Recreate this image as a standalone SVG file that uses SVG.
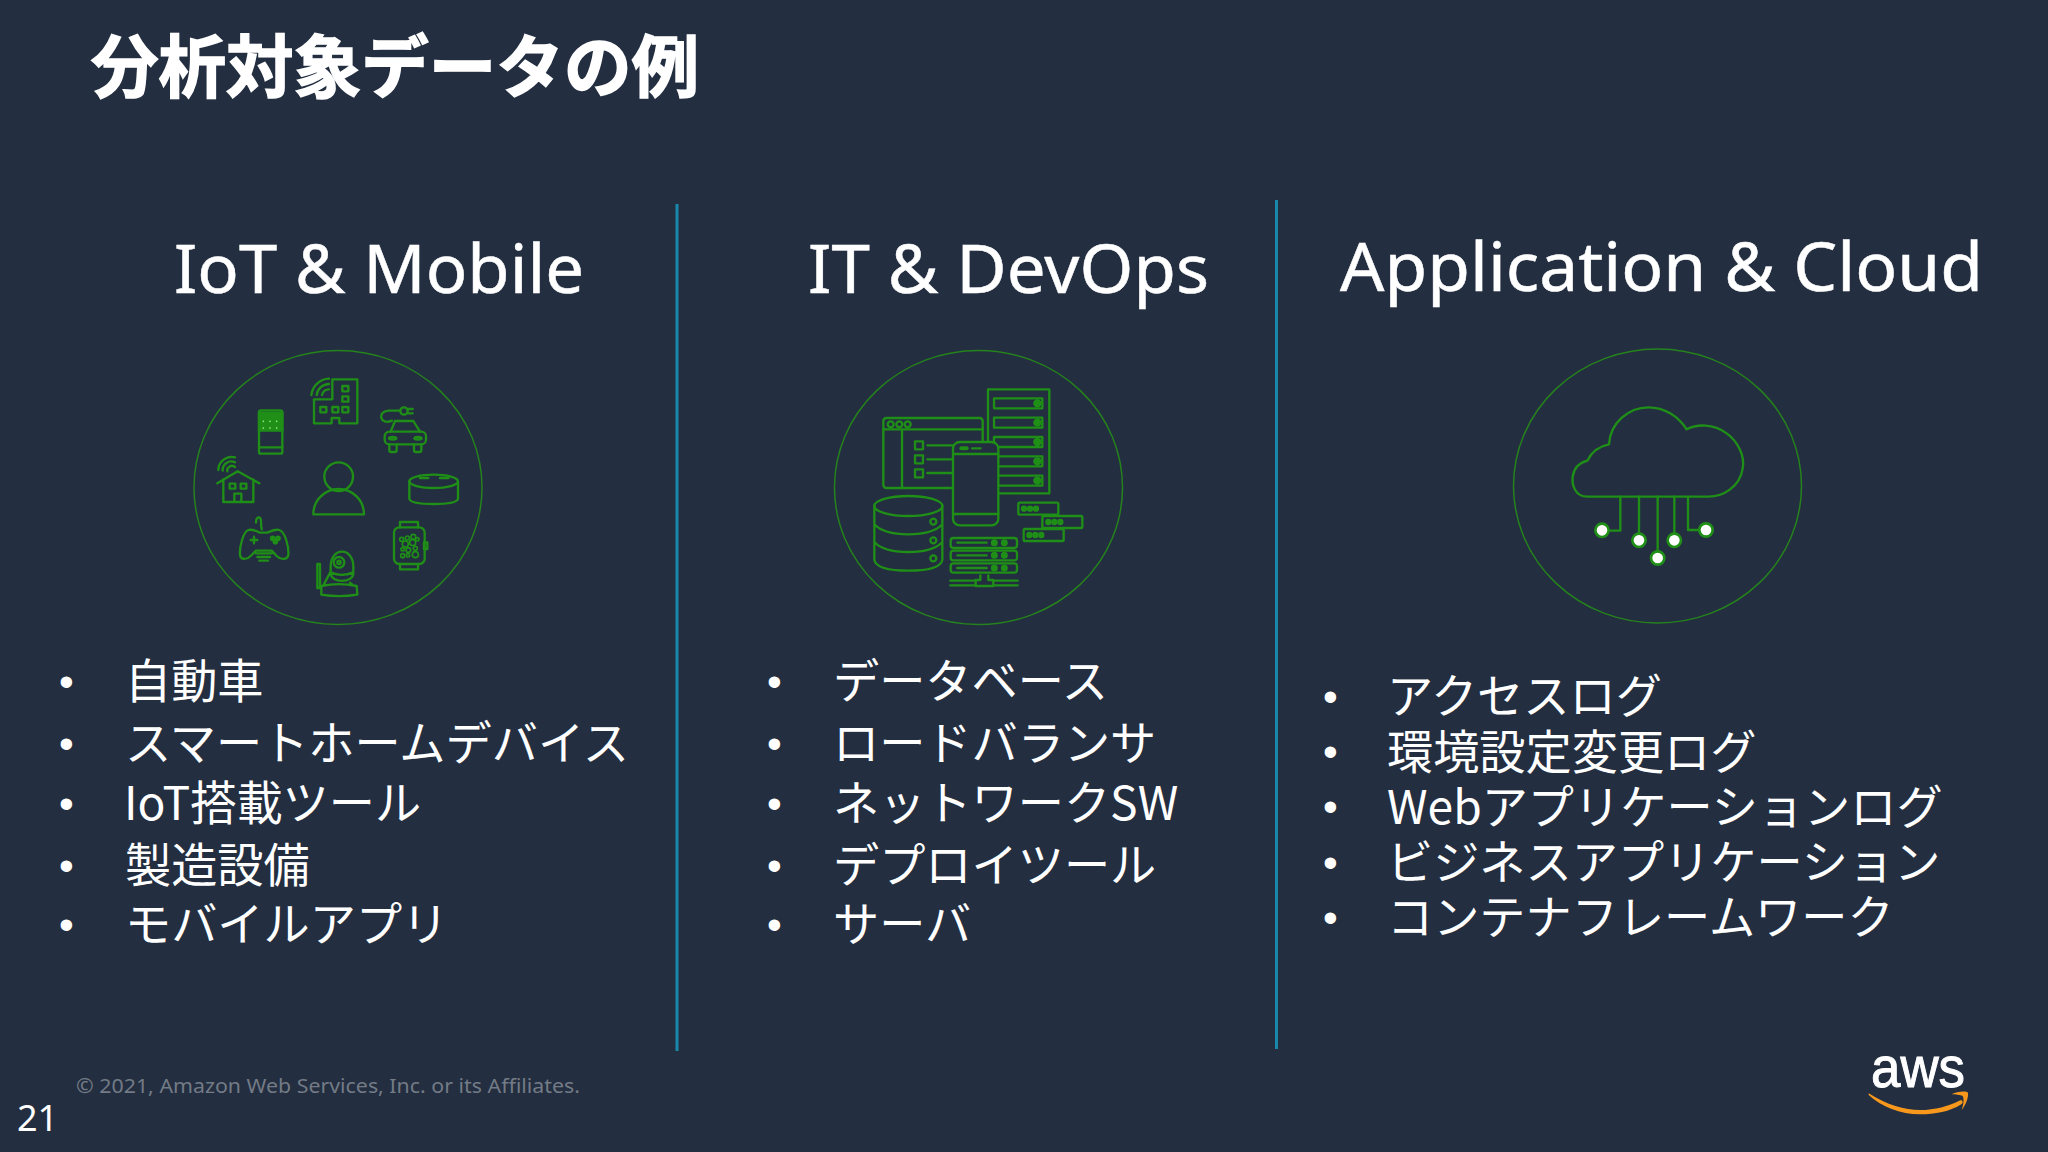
<svg xmlns="http://www.w3.org/2000/svg" width="2048" height="1152" viewBox="0 0 2048 1152">
<style>
text{font-family:"Noto Sans","Noto Sans CJK JP",sans-serif;fill:#fff}
.title{font-family:"Noto Sans CJK JP",sans-serif;font-size:68px;font-weight:700;stroke:#fff;stroke-width:1.5}
.head{font-size:68px;stroke:#fff;stroke-width:.5}
.item{font-family:"Noto Sans CJK JP","Noto Sans",sans-serif;font-size:46.200px}
.bul{font-family:"Liberation Sans",sans-serif;font-size:42px}
.ring{fill:none;stroke:#25821c;stroke-width:1.5}
.ic{fill:none;stroke:#1f8f17;stroke-width:7;stroke-linejoin:round;stroke-linecap:round}
.ic .f{fill:#1f8f17}
.ic .b{fill:#232e40}
.ic .w{fill:#fff;stroke:#1f8f17;stroke-width:8}
.sep{stroke:#1a87ad;stroke-width:3}
</style>
<rect width="2048" height="1152" fill="#232e40"/>
<text class="title" x="91" y="92" textLength="608" lengthAdjust="spacingAndGlyphs">分析対象データの例</text>
<g id="separators"><line class="sep" x1="677" y1="204" x2="677" y2="1051"/><line class="sep" x1="1276.500" y1="200" x2="1276.500" y2="1049"/></g>
<g id="iot">
<text class="head" x="174" y="293" textLength="410" lengthAdjust="spacingAndGlyphs">IoT &amp; Mobile</text>
<ellipse class="ring" cx="338" cy="487.500" rx="144" ry="137"/>
<g class="ic" transform="translate(180 340) scale(.33333)">
<path d="M402 178H457V118H532V250H478V234H455V250H402Z"/><rect x="487" y="138" width="18" height="16"/><rect x="487" y="169" width="18" height="16"/><rect x="487" y="201" width="18" height="16"/><rect x="421" y="201" width="18" height="16"/><rect x="457" y="201" width="18" height="16"/><path d="M394 165A55 55 0 0 1 447 116M410 165A38 38 0 0 1 447 132M426 165A20 20 0 0 1 447 148"/>
<rect x="237" y="211" width="70" height="130" rx="6"/><rect class="f" x="237" y="218" width="70" height="54"/><path d="M237 322H307"/><g fill="#9ef08c" stroke="none"><circle cx="250" cy="244" r="2.500"/><circle cx="270" cy="244" r="2.500"/><circle cx="290" cy="244" r="2.500"/><circle cx="250" cy="264" r="2.500"/><circle cx="270" cy="264" r="2.500"/><circle cx="290" cy="264" r="2.500"/></g>
<rect x="614" y="275" width="124" height="38" rx="14"/><path d="M632 275L645 243H700L720 275M628 313V330Q628 336 634 336H644Q650 336 650 330V313M702 313V330Q702 336 708 336H718Q724 336 724 330V313"/><ellipse cx="638" cy="295" rx="11" ry="4"/><ellipse cx="714" cy="295" rx="11" ry="4"/><path d="M636 242C600 258 590 214 625 212H660M684 207H698M684 220H698"/><circle cx="672" cy="213" r="11"/>
<ellipse cx="761" cy="424" rx="73" ry="20"/><path d="M688 424V476Q692 492 761 492Q830 492 834 476V424"/><path class="f" d="M720 414H745M780 414H805" stroke-width="7"/>
<circle cx="476" cy="410" r="43"/><path d="M400 523A76 76 0 0 1 552 523Z"/>
<path d="M112 430L173 394L238 430M130 418V486H220V418M163 486V461H184V486M115 390A40 40 0 0 1 165 352M128 392A26 26 0 0 1 165 367M142 394A14 14 0 0 1 165 381"/><rect x="149" y="431" width="17" height="15"/><rect x="182" y="431" width="17" height="15"/>
<path d="M205 570C190 575 178 620 180 645C182 660 200 660 212 648L228 632H275L290 648C302 660 322 660 325 645C327 620 315 575 298 570C285 566 270 575 262 578H240C232 575 218 566 205 570ZM228 640H275M232 651H270M238 662H264M245 568Q243 560 243 545C243 525 228 530 228 548M212 600H232M222 590V610"/><circle class="f" cx="278" cy="595" r="5"/><circle class="f" cx="294" cy="595" r="5"/><circle class="f" cx="286" cy="605" r="5"/>
<path d="M424 738Q477 727 530 738L532 764Q477 773 424 764ZM452 680C452 620 520 620 520 680V700C520 730 452 730 452 700ZM452 697Q485 712 520 697M430 736L452 695M510 728L520 736"/><circle cx="477" cy="667" r="16"/><circle cx="477" cy="667" r="5"/><rect x="412" y="672" width="8" height="72"/>
<rect x="642" y="562" width="92" height="110" rx="16"/><path d="M660 562V546H714V562M660 672V688H714V672"/><rect x="732" y="607" width="10" height="20"/><g stroke-width="5"><circle cx="665" cy="598" r="6"/><circle cx="682" cy="594" r="6"/><circle cx="700" cy="590" r="7"/><circle cx="712" cy="598" r="5"/><circle cx="676" cy="612" r="9"/><circle cx="698" cy="608" r="9"/><circle cx="668" cy="628" r="5"/><circle cx="685" cy="630" r="7"/><circle cx="706" cy="625" r="6"/><circle cx="668" cy="647" r="6"/><circle cx="684" cy="646" r="5"/><circle cx="706" cy="644" r="9"/></g>
</g>
<g id="iot-list">
<text class="bul" x="59" y="696">•</text><text class="bul" x="59" y="758">•</text><text class="bul" x="59" y="818">•</text><text class="bul" x="59" y="880">•</text><text class="bul" x="59" y="939">•</text>
<text class="item" x="125" y="698">自動車</text><text class="item" x="125" y="760">スマートホームデバイス</text><text class="item" x="124" y="820">IoT搭載ツール</text><text class="item" x="125" y="882">製造設備</text><text class="item" x="125" y="941">モバイルアプリ</text>
</g></g>
<g id="itdevops">
<text class="head" x="808" y="293" textLength="401" lengthAdjust="spacingAndGlyphs">IT &amp; DevOps</text>
<ellipse class="ring" cx="978.500" cy="487.500" rx="144" ry="137"/>
<g class="ic" transform="translate(820 340) scale(.33333)">
<rect x="504" y="148" width="184" height="312"/>
<rect x="522" y="175" width="145" height="30"/><rect x="522" y="233" width="145" height="30"/><rect x="522" y="291" width="145" height="30"/><rect x="522" y="349" width="145" height="30"/><rect x="522" y="407" width="145" height="30"/>
<g class="f"><circle cx="652" cy="190" r="9"/><circle cx="652" cy="248" r="9"/><circle cx="652" cy="306" r="9"/><circle cx="652" cy="364" r="9"/><circle cx="652" cy="422" r="9"/></g>
<rect class="b" x="190" y="234" width="298" height="210" rx="9"/><path d="M190 268H488M246 268V444M322 316H400M322 358H400M322 399H400"/><circle cx="212" cy="253" r="9"/><circle cx="238" cy="253" r="9"/><circle cx="263" cy="253" r="9"/><rect x="285" y="304" width="24" height="24"/><rect x="285" y="346" width="24" height="24"/><rect x="285" y="388" width="24" height="24"/>
<rect class="b" x="399" y="306" width="136" height="250" rx="20"/><path d="M399 342H535M399 522H535M456 325H482"/><path d="M424 325H440" stroke-width="12"/>
<path d="M163 498V660Q170 692 265 692Q360 692 367 660V498M163 553Q190 583 265 583Q340 583 367 553M163 606Q190 636 265 636Q340 636 367 606"/><ellipse cx="265" cy="498" rx="102" ry="30"/><circle cx="340" cy="545" r="9"/><circle cx="340" cy="601" r="9"/><circle cx="340" cy="655" r="9"/>
<rect x="392" y="594" width="199" height="30" rx="8"/><rect x="392" y="632" width="199" height="29" rx="8"/><rect x="392" y="670" width="199" height="28" rx="8"/><path d="M412 608H500M412 646H500M412 684H500"/><g class="f"><circle cx="523" cy="608" r="7"/><circle cx="553" cy="608" r="7"/><circle cx="523" cy="646" r="7"/><circle cx="553" cy="646" r="7"/><circle cx="523" cy="684" r="7"/><circle cx="553" cy="684" r="7"/></g>
<path d="M391 722H467M391 736H467M520 722H593M520 736H593M481 706V720H467V738H520V720H505V706"/>
<rect x="595" y="488" width="120" height="36" rx="4"/><rect x="667" y="528" width="120" height="36" rx="4"/><rect x="611" y="567" width="120" height="36" rx="4"/>
<g class="f"><circle cx="612" cy="506" r="6"/><circle cx="630" cy="506" r="6"/><circle cx="648" cy="506" r="6"/><circle cx="685" cy="546" r="6"/><circle cx="703" cy="546" r="6"/><circle cx="721" cy="546" r="6"/><circle cx="628" cy="585" r="6"/><circle cx="646" cy="585" r="6"/><circle cx="664" cy="585" r="6"/></g>
</g>
<g id="itdevops-list">
<text class="bul" x="767" y="696">•</text><text class="bul" x="767" y="758">•</text><text class="bul" x="767" y="818">•</text><text class="bul" x="767" y="880">•</text><text class="bul" x="767" y="939">•</text>
<text class="item" x="833" y="698">データベース</text><text class="item" x="833" y="760">ロードバランサ</text><text class="item" x="833" y="820">ネットワークSW</text><text class="item" x="833" y="882">デプロイツール</text><text class="item" x="833" y="941">サーバ</text>
</g></g>
<g id="appcloud">
<text class="head" x="1340" y="291" textLength="643" lengthAdjust="spacingAndGlyphs">Application &amp; Cloud</text>
<ellipse class="ring" cx="1657.500" cy="486" rx="144" ry="137"/>
<g class="ic" transform="translate(1500 340) scale(.33333)">
<path d="M262 470C225 470 215 435 218 410C222 380 240 368 262 362C275 335 300 318 327 313C330 250 385 202 445 202C495 202 535 230 560 268C590 252 640 250 680 280C715 305 735 350 728 385C720 440 670 470 625 470Z"/>
<path d="M361 470V572H332M417 470V580M473 470V632M523 470V580M564 470V570H595"/>
<circle class="w" cx="306" cy="571" r="20"/><circle class="w" cx="417" cy="601" r="20"/><circle class="w" cx="473" cy="654" r="20"/><circle class="w" cx="523" cy="601" r="20"/><circle class="w" cx="618" cy="570" r="20"/>
</g>
<g id="appcloud-list">
<text class="bul" x="1323" y="711">•</text><text class="bul" x="1323" y="766">•</text><text class="bul" x="1323" y="821">•</text><text class="bul" x="1323" y="877">•</text><text class="bul" x="1323" y="932">•</text>
<text class="item" x="1387" y="713">アクセスログ</text><text class="item" x="1387" y="769">環境設定変更ログ</text><text class="item" x="1387" y="824">Webアプリケーションログ</text><text class="item" x="1387" y="879">ビジネスアプリケーション</text><text class="item" x="1387" y="934">コンテナフレームワーク</text>
</g></g>
<g id="footer">
<text x="76" y="1093" font-size="20" style="fill:#737b86" textLength="504" lengthAdjust="spacingAndGlyphs">© 2021, Amazon Web Services, Inc. or its Affiliates.</text>
<text x="17" y="1131" font-size="36">21</text>
<text x="1871" y="1087" font-size="57" style="font-family:'Liberation Sans',sans-serif;stroke:#fff;stroke-width:1" textLength="94" lengthAdjust="spacingAndGlyphs">aws</text>
<g transform="translate(1840 1030) scale(.33333)" fill="#f7981d"><path d="M86 190C140 225 195 240 240 240C285 240 325 228 358 212C366 208 372 216 365 222C330 245 285 253 240 253C180 253 125 230 86 195Z"/><path d="M335 193C350 184 380 182 384 188C386 200 378 225 365 240C372 220 372 205 368 198C362 194 345 194 335 193Z"/></g>
</g>
</svg>
